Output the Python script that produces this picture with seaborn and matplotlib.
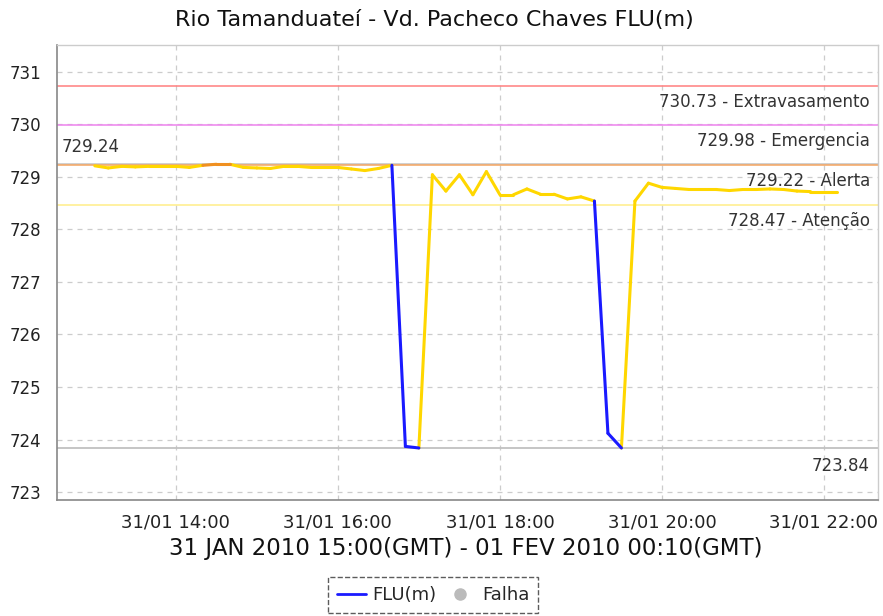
import matplotlib
matplotlib.use("Agg")
import matplotlib.pyplot as plt
import matplotlib.dates as mdates
from matplotlib.lines import Line2D
from matplotlib.transforms import blended_transform_factory
import seaborn as sns
import pandas as pd

# ---- data ----
times = ["13:00", "13:10", "13:20", "13:30", "13:40", "13:50",
         "14:00", "14:10", "14:20", "14:30", "14:40", "14:50",
         "15:00", "15:10", "15:20", "15:30", "15:40", "15:50",
         "16:00", "16:10", "16:20", "16:30", "16:40", "16:50",
         "17:00", "17:10", "17:20", "17:30", "17:40", "17:50",
         "18:00", "18:10", "18:20", "18:30", "18:40", "18:50",
         "19:00", "19:10", "19:20", "19:30", "19:40", "19:50",
         "20:00", "20:10", "20:20", "20:30", "20:40", "20:50",
         "21:00", "21:10", "21:20", "21:30", "21:40", "21:50",
         "22:00", "22:10"]
flu = [729.21, 729.17, 729.20, 729.19, 729.20, 729.20,
       729.20, 729.18, 729.22, 729.24, 729.24, 729.18,
       729.17, 729.16, 729.20, 729.20, 729.18, 729.18,
       729.18, 729.15, 729.12, 729.16, 729.22, 723.87,
       723.84, 729.04, 728.73, 729.04, 728.66, 729.10,
       728.66, 728.66, 728.77, 728.67, 728.67, 728.58,
       728.62, 728.54, 724.12, 723.84, 728.54, 728.88,
       728.80, 728.78, 728.76, 728.76, 728.76, 728.74,
       728.76, 728.76, 728.77, 728.76, 728.73, 728.72,
       728.72, 728.72]

threshold_values = [730.73, 729.98, 729.22, 728.47]
threshold_names = ["Extravasamento", "Emergencia", "Alerta", "Atenção"]
threshold_colors = ["#FF7F7F", "#EE82EE", "#F4A460", "#FFEE88"]
max_value = 729.24
min_value = 723.84

title = "Rio Tamanduateí - Vd. Pacheco Chaves FLU(m)"
xlabel = "31 JAN 2010 15:00(GMT) - 01 FEV 2010 00:10(GMT)"
yticks = [723, 724, 725, 726, 727, 728, 729, 730, 731]

# ---- build segment table, colored by level of segment end point ----
t = pd.to_datetime(["2010-01-31 " + s for s in times])
rows = []
for i in range(1, len(flu)):
    v_end = flu[i]
    if v_end < threshold_values[3]:
        lvl = "normal"
    elif v_end <= threshold_values[2]:
        lvl = "atencao"
    else:
        lvl = "alerta"
    rows.append({"time": t[i - 1], "value": flu[i - 1], "seg": i, "level": lvl})
    rows.append({"time": t[i], "value": flu[i], "seg": i, "level": lvl})
seg_df = pd.DataFrame(rows)
palette = {"normal": "#1a1aff", "atencao": "#FFD700", "alerta": "#F09020"}

sns.set_style("white")
plt.rcParams["font.family"] = ["DejaVu Sans"]

fig = plt.figure(figsize=(8.83, 6.16), dpi=100)
ax = fig.add_axes([57 / 883, 1 - 500 / 616, (878 - 57) / 883, (500 - 45) / 616])

# reference lines
ax.axhline(max_value, color="#C8C8C8", lw=1.2, zorder=2)
ax.axhline(min_value, color="#C0C0C0", lw=1.3, zorder=2)
for val, col in zip(threshold_values, threshold_colors):
    ax.axhline(val, color=col, lw=1.1, zorder=2)

sns.lineplot(data=seg_df, x="time", y="value", hue="level", units="seg",
             estimator=None, palette=palette, legend=False, lw=2.2,
             sort=False, ax=ax, zorder=3)

ax.set_ylim(722.85, 731.51)
ax.set_xlim(pd.Timestamp("2010-01-31 12:32"), pd.Timestamp("2010-01-31 22:40"))
ax.set_yticks(yticks)
ax.xaxis.set_major_locator(mdates.HourLocator(byhour=[14, 16, 18, 20, 22]))
ax.xaxis.set_major_formatter(mdates.DateFormatter("%d/%m %H:%M"))
ax.set_xlabel("")
ax.set_ylabel("")

ax.grid(True, color="#CCCCCC", linestyle=(0, (4, 4)), lw=0.9, zorder=1)
ax.tick_params(axis="both", direction="out", length=4, width=1, color="#777777",
               labelcolor="#222222")
ax.tick_params(axis="y", pad=7, labelsize=12)
ax.tick_params(axis="x", pad=6, labelsize=13)
for side in ["left", "bottom"]:
    ax.spines[side].set_color("#888888")
    ax.spines[side].set_linewidth(1.2)
for side in ["top", "right"]:
    ax.spines[side].set_color("#CCCCCC")
    ax.spines[side].set_linewidth(1.0)

# labels for reference lines
tr = blended_transform_factory(ax.transAxes, ax.transData)
for val, name in zip(threshold_values, threshold_names):
    ax.annotate(f"{val:.2f} - {name}", xy=(1, val), xycoords=tr,
                xytext=(-8, -16), textcoords="offset pixels",
                ha="right", va="center", fontsize=12, color="#333333")
ax.annotate(f"{min_value:.2f}", xy=(1, min_value), xycoords=tr,
            xytext=(-8, -18), textcoords="offset pixels",
            ha="right", va="center", fontsize=12, color="#333333")
ax.annotate(f"{max_value:.2f}", xy=(0, max_value), xycoords=tr,
            xytext=(5, 17), textcoords="offset pixels",
            ha="left", va="center", fontsize=12, color="#333333")

fig.text(434 / 883, 1 - 20 / 616, title, ha="center", va="center",
         fontsize=16, color="#111111")
fig.text(466 / 883, 1 - 548 / 616, xlabel, ha="center", va="center",
         fontsize=16.5, color="#111111")

handles = [Line2D([], [], color="#1a1aff", lw=2),
           Line2D([], [], color="#BBBBBB", marker="o", lw=0, markersize=8)]
leg = fig.legend(handles, ["FLU(m)", "Falha"], loc="upper center",
                 bbox_to_anchor=(433 / 883, 1 - 577 / 616), ncol=2,
                 frameon=True, fancybox=False, fontsize=13,
                 handlelength=1.6, handletextpad=0.4, columnspacing=0.5,
                 borderpad=0.5, borderaxespad=0)
leg.get_frame().set_edgecolor("#333333")
leg.get_frame().set_linestyle("--")
leg.get_frame().set_linewidth(1.0)

fig.savefig("out.png", dpi=100)
